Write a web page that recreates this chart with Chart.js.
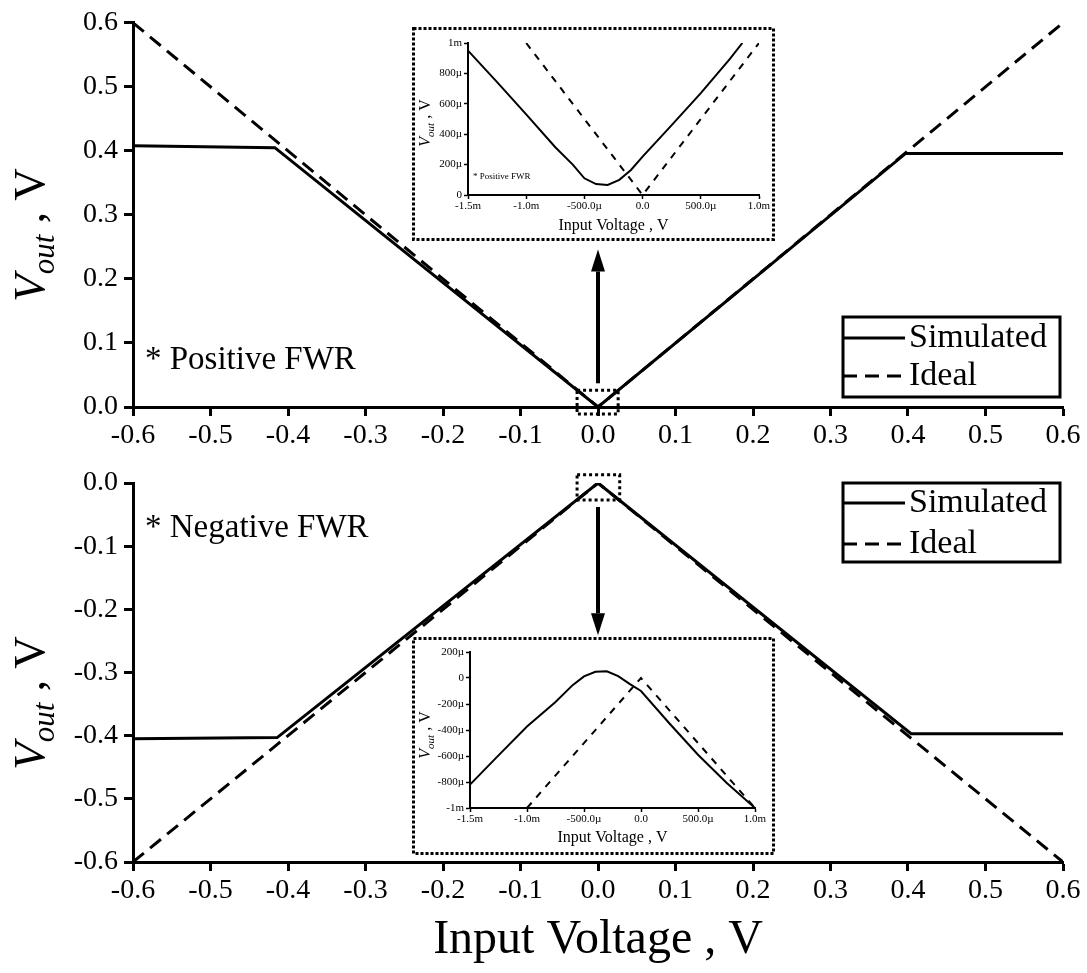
<!DOCTYPE html>
<html>
<head>
<meta charset="utf-8">
<script src="https://cdn.jsdelivr.net/npm/chart.js@4.4.1/dist/chart.umd.min.js"></script>
<style>
  html, body { margin: 0; padding: 0; background: #fff; }
  #wrap { position: relative; width: 1087px; height: 973px; }
  canvas { position: absolute; }
  #topChart { left: 0; top: 0; }
  #botChart { left: 0; top: 460px; }
  #topInset { left: 412px; top: 27px; background: #fff; }
  #botInset { left: 412px; top: 637px; background: #fff; }
</style>
</head>
<body>
<div id="wrap">
  <canvas id="topChart" width="1087" height="460"></canvas>
  <canvas id="botChart" width="1087" height="513"></canvas>
  <canvas id="topInset" width="363" height="214"></canvas>
  <canvas id="botInset" width="363" height="218"></canvas>
</div>
<script>
const SERIF = '"Liberation Serif", "Times New Roman", serif';

// main panels (V)
const topSimX = [-0.6, -0.417, 0, 0.397, 0.6];
const topSimY = [0.408, 0.405, 0, 0.396, 0.396];
const botSimX = [-0.6, -0.414, 0, 0.404, 0.6];
const botSimY = [-0.405, -0.403, 0, -0.397, -0.397];
const idealX = [-0.6, 0, 0.6];
const topIdealY = [0.6, 0, 0.6];
const botIdealY = [-0.6, 0, -0.6];

// insets (µV)
const topInsetSimX = [-1500, -1250, -1000, -750, -600, -500, -400, -300, -200, -100, 0, 250, 500, 750, 857];
const topInsetSimY = [950, 743, 530, 314, 200, 110, 72, 66, 100, 165, 252, 460, 670, 895, 1000];
const botInsetSimX = [-1500, -1250, -1000, -750, -600, -500, -400, -300, -200, -100, 0, 250, 500, 750, 1000];
const botInsetSimY = [-820, -595, -373, -185, -55, 12, 48, 52, 15, -45, -100, -350, -590, -805, -1000];
const insetIdealX = [-1000, 0, 1000];
const topInsetIdealY = [1000, 0, 1000];
const botInsetIdealY = [-1000, 0, -1000];

const insetXTicks = [-1500, -1000, -500, 0, 500, 1000];
const insetXLabels = ["-1.5m", "-1.0m", "-500.0µ", "0.0", "500.0µ", "1.0m"];
const topInsetYTicks = [0, 200, 400, 600, 800, 1000];
const topInsetYLabels = ["0", "200µ", "400µ", "600µ", "800µ", "1m"];
const botInsetYTicks = [-1000, -800, -600, -400, -200, 0, 200];
const botInsetYLabels = ["-1m", "-800µ", "-600µ", "-400µ", "-200µ", "0", "200µ"];

const seriesNames = ["Simulated", "Ideal"];

// zoomed regions marked on the main panels (data units)
const topZoomBox = { x0: -0.027, x1: 0.026, y0: -0.011, y1: 0.026 };
const botZoomBox = { x0: -0.027, x1: 0.028, y0: -0.027, y1: 0.013 };
const topArrow = { x: 0, y0: 0.037, y1: 0.246 };
const botArrow = { x: 0, y0: -0.038, y1: -0.241 };

const pts = (xs, ys) => xs.map((x, i) => ({ x, y: ys[i] }));

function drawYTitle(ctx, t) {
  ctx.save();
  ctx.translate(t.x, t.y);
  ctx.rotate(-Math.PI / 2);
  const parts = [
    ["V", `italic ${t.size}px ${SERIF}`, 0],
    ["out", `italic ${Math.round(t.size * 0.68)}px ${SERIF}`, t.size * 0.22],
    [" , V", `${t.size}px ${SERIF}`, 0]
  ];
  let w = 0;
  parts.forEach(p => { ctx.font = p[1]; p.push(ctx.measureText(p[0]).width); w += p[3]; });
  let x = -w / 2;
  ctx.fillStyle = "#000";
  ctx.textBaseline = "alphabetic";
  const base = t.size * 0.33;
  parts.forEach(p => { ctx.font = p[1]; ctx.fillText(p[0], x, base + p[2]); x += p[3]; });
  ctx.restore();
}

const extras = {
  id: "extras",
  afterDatasetsDraw(chart, args, o) {
    const { ctx } = chart;
    const xs = chart.scales.x, ys = chart.scales.y;
    ctx.save();
    ctx.strokeStyle = "#000";
    ctx.fillStyle = "#000";

    if (o.frame) {
      ctx.lineWidth = 3;
      ctx.setLineDash([3, 2]);
      ctx.strokeRect(1.5, 1.5, chart.width - 3, chart.height - 3);
      ctx.setLineDash([]);
    }

    if (o.zoomBox) {
      const b = o.zoomBox;
      const px0 = xs.getPixelForValue(b.x0), px1 = xs.getPixelForValue(b.x1);
      const py0 = ys.getPixelForValue(b.y0), py1 = ys.getPixelForValue(b.y1);
      ctx.lineWidth = 3;
      ctx.setLineDash([3, 3]);
      ctx.strokeRect(px0, py1, px1 - px0, py0 - py1);
      ctx.setLineDash([]);
    }

    if (o.arrow) {
      const a = o.arrow;
      const ax = xs.getPixelForValue(a.x);
      const a0 = ys.getPixelForValue(a.y0), a1 = ys.getPixelForValue(a.y1);
      const dir = a1 < a0 ? -1 : 1;
      const head = 22;
      ctx.lineWidth = 4;
      ctx.beginPath();
      ctx.moveTo(ax, a0);
      ctx.lineTo(ax, a1 - dir * head);
      ctx.stroke();
      ctx.beginPath();
      ctx.moveTo(ax, a1);
      ctx.lineTo(ax - 7, a1 - dir * head);
      ctx.lineTo(ax + 7, a1 - dir * head);
      ctx.closePath();
      ctx.fill();
    }

    if (o.legend) {
      const L = o.legend;
      ctx.lineWidth = 3;
      ctx.strokeRect(L.x, L.y, L.w, L.h);
      chart.data.datasets.forEach((ds, i) => {
        const cy = L.y + L.rows[i];
        ctx.setLineDash(ds.borderDash || []);
        ctx.beginPath();
        ctx.moveTo(L.x, cy);
        ctx.lineTo(L.x + L.line, cy);
        ctx.stroke();
        ctx.setLineDash([]);
        ctx.font = `${L.size}px ${SERIF}`;
        ctx.textBaseline = "middle";
        ctx.fillText(ds.label, L.x + L.line + 4, cy);
      });
    }

    (o.notes || []).forEach(n => {
      ctx.font = `${n.size}px ${SERIF}`;
      ctx.textBaseline = "alphabetic";
      ctx.fillText(n.text, n.x, n.y);
    });

    if (o.yTitle) drawYTitle(ctx, o.yTitle);
    ctx.restore();
  }
};

const fmt1 = v => (Math.abs(v) < 1e-9 ? "0.0" : v.toFixed(1));

function mainChart(id, simX, simY, idY, yMin, yMax, lay, ext) {
  return new Chart(document.getElementById(id), {
    type: "line",
    data: {
      datasets: [
        { label: seriesNames[0], data: pts(simX, simY), borderColor: "#000", borderWidth: 3, pointRadius: 0, tension: 0, fill: false },
        { label: seriesNames[1], data: pts(idealX, idY), borderColor: "#000", borderWidth: 3, borderDash: [14, 8], pointRadius: 0, tension: 0, fill: false }
      ]
    },
    options: {
      responsive: false,
      animation: false,
      events: [],
      layout: { padding: { left: 0, top: lay.top, right: lay.right, bottom: 0 } },
      plugins: { legend: { display: false }, tooltip: { enabled: false }, extras: ext },
      scales: {
        x: {
          type: "linear", min: -0.6, max: 0.6,
          ticks: { stepSize: 0.1, color: "#000", font: { family: SERIF, size: 28 }, padding: 3, maxRotation: 0, autoSkip: false, callback: fmt1 },
          grid: { display: true, drawOnChartArea: false, drawTicks: true, tickLength: 9, tickWidth: 3, color: "#000" },
          border: { display: true, width: 3, color: "#000" },
          title: lay.xTitle ? { display: true, text: "Input Voltage , V", color: "#000", font: { family: SERIF, size: 48 }, padding: { top: 0, bottom: 4 } } : { display: false },
          afterFit: s => { s.height = lay.xh; }
        },
        y: {
          type: "linear", min: yMin, max: yMax,
          ticks: { stepSize: 0.1, color: "#000", font: { family: SERIF, size: 28 }, padding: 6, callback: fmt1 },
          grid: { display: true, drawOnChartArea: false, drawTicks: true, tickLength: 9, tickWidth: 3, color: "#000" },
          border: { display: true, width: 3, color: "#000" },
          afterFit: s => { s.width = 133; }
        }
      }
    },
    plugins: [extras]
  });
}

function insetChart(id, simX, simY, idY, yTicks, yLabels, lay, ext) {
  const lookup = (vals, labels) => v => { const i = vals.indexOf(v); return i < 0 ? "" : labels[i]; };
  return new Chart(document.getElementById(id), {
    type: "line",
    data: {
      datasets: [
        { label: seriesNames[0], data: pts(simX, simY), borderColor: "#000", borderWidth: 2, pointRadius: 0, tension: 0, fill: false },
        { label: seriesNames[1], data: pts(insetIdealX, idY), borderColor: "#000", borderWidth: 2, borderDash: [7, 7], pointRadius: 0, tension: 0, fill: false }
      ]
    },
    options: {
      responsive: false,
      animation: false,
      events: [],
      layout: { padding: { left: 0, top: lay.top, right: lay.right, bottom: 0 } },
      plugins: { legend: { display: false }, tooltip: { enabled: false }, extras: ext },
      scales: {
        x: {
          type: "linear", min: insetXTicks[0], max: insetXTicks[insetXTicks.length - 1],
          afterBuildTicks: s => { s.ticks = insetXTicks.map(v => ({ value: v })); },
          ticks: { color: "#000", font: { family: SERIF, size: 11 }, padding: 1, maxRotation: 0, autoSkip: false, callback: lookup(insetXTicks, insetXLabels) },
          grid: { display: true, drawOnChartArea: false, drawTicks: true, tickLength: 4, tickWidth: 1.5, color: "#000" },
          border: { display: true, width: 2, color: "#000" },
          title: { display: true, text: "Input Voltage , V", color: "#000", font: { family: SERIF, size: 16 }, padding: { top: 0, bottom: lay.tb } },
          afterFit: s => { s.height = lay.xh; }
        },
        y: {
          type: "linear", min: yTicks[0], max: yTicks[yTicks.length - 1],
          afterBuildTicks: s => { s.ticks = yTicks.map(v => ({ value: v })); },
          ticks: { color: "#000", font: { family: SERIF, size: 11 }, padding: 2, autoSkip: false, callback: lookup(yTicks, yLabels) },
          grid: { display: true, drawOnChartArea: false, drawTicks: true, tickLength: 4, tickWidth: 1.5, color: "#000" },
          border: { display: true, width: 2, color: "#000" },
          afterFit: s => { s.width = lay.yw; }
        }
      }
    },
    plugins: [extras]
  });
}

mainChart("topChart", topSimX, topSimY, topIdealY, 0, 0.6,
  { top: 20, right: 24, xh: 53, xTitle: false },
  {
    zoomBox: topZoomBox, arrow: topArrow,
    legend: { x: 843, y: 317, w: 217, h: 80, line: 62, rows: [21, 59], size: 34 },
    notes: [{ text: "* Positive FWR", x: 145, y: 369, size: 33 }],
    yTitle: { x: 29, y: 235, size: 45 }
  });

mainChart("botChart", botSimX, botSimY, botIdealY, -0.6, 0,
  { top: 23, right: 24, xh: 111, xTitle: true },
  {
    zoomBox: botZoomBox, arrow: botArrow,
    legend: { x: 843, y: 23, w: 217, h: 79, line: 62, rows: [20, 61], size: 34 },
    notes: [{ text: "* Negative FWR", x: 145, y: 77, size: 33 }],
    yTitle: { x: 29, y: 243, size: 45 }
  });

insetChart("topInset", topInsetSimX, topInsetSimY, topInsetIdealY, topInsetYTicks, topInsetYLabels,
  { top: 16, right: 16, xh: 46, yw: 56, tb: 6 },
  {
    frame: true,
    notes: [{ text: "* Positive FWR", x: 61, y: 152, size: 9 }],
    yTitle: { x: 13, y: 96, size: 16 }
  });

insetChart("botInset", botInsetSimX, botInsetSimY, botInsetIdealY, botInsetYTicks, botInsetYLabels,
  { top: 15, right: 20, xh: 47, yw: 58, tb: 8 },
  {
    frame: true,
    yTitle: { x: 13, y: 98, size: 16 }
  });
</script>
</body>
</html>
